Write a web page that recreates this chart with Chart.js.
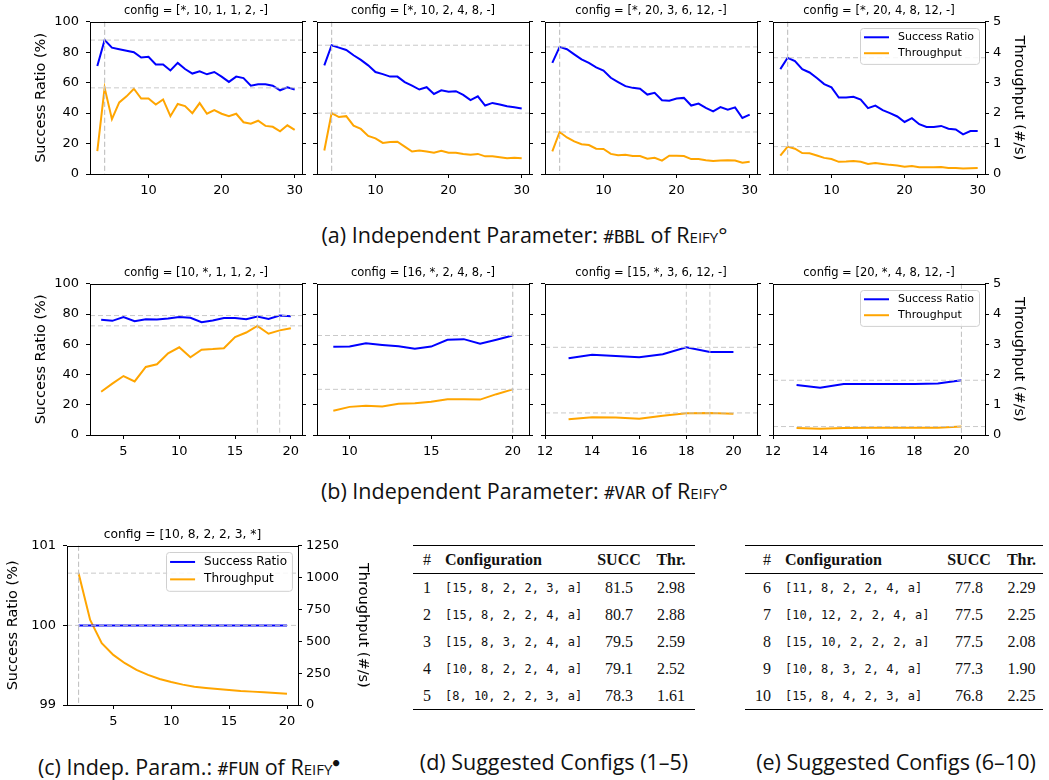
<!DOCTYPE html>
<html>
<head>
<meta charset="utf-8">
<script src="https://cdn.jsdelivr.net/npm/chart.js@4.4.1/dist/chart.umd.min.js"></script>
<style>
  body { margin: 0; background: #fff; }
  #fig { position: relative; width: 1049px; height: 780px; overflow: hidden; background: #fff; }
  .pane { position: absolute; }
  .cap { position: absolute; text-align: center; font-family: "Open Sans", Lato, sans-serif; font-size: 21.5px; line-height: 26px; color: #111; white-space: nowrap; }
  .cap .mono { font-family: "DejaVu Sans Mono", monospace; font-size: 0.8em; }
  .cap .sc { font-variant: small-caps; }
  table.cfg { position: absolute; border-collapse: collapse; font-family: "Liberation Serif", serif; font-size: 16px; color: #111;
              border-top: 1.5px solid #000; border-bottom: 1.5px solid #000; table-layout: fixed; }
  table.cfg th { height: 27px; padding: 0; border-bottom: 1px solid #000; font-weight: bold; }
  table.cfg td { height: 27px; padding: 0; }
  table.cfg .num { text-align: right; padding-right: 10px; font-weight: normal; }
  table.cfg .conf { text-align: left; padding-left: 4px; }
  table.cfg td.conf { font-family: "DejaVu Sans Mono", monospace; font-size: 12px; }
  table.cfg .c { text-align: center; }
</style>
</head>
<body>
<div id="fig">
  <div class="cap" style="left:0; width:1049px; top:222px;">(a) Independent Parameter: <span class="mono">#BBL</span> of <span class="sc">Reify</span>°</div>
  <div class="cap" style="left:0; width:1049px; top:478px;">(b) Independent Parameter: <span class="mono">#VAR</span> of <span class="sc">Reify</span>°</div>
  <div class="cap" style="left:0; width:378px; top:749px;">(c) Indep. Param.: <span class="mono">#FUN</span> of <span class="sc">Reify</span><sup style="font-size:0.6em">●</sup></div>
  <div class="cap" style="left:413px; width:282px; top:749px;">(d) Suggested Configs (1–5)</div>
  <div class="cap" style="left:745px; width:302px; top:749px;">(e) Suggested Configs (6–10)</div>
</div>

<script>
// ---- data ----
const bblSteps = [3, 4, 5, 6, 7, 8, 9, 10, 11, 12, 13, 14, 15, 16, 17, 18, 19, 20, 21, 22, 23, 24, 25, 26, 27, 28, 29, 30];
const varStepsB1 = [3, 4, 5, 6, 7, 8, 9, 10, 11, 12, 13, 14, 15, 16, 17, 18, 19, 20];
const varStepsB2 = [9, 10, 11, 12, 13, 14, 15, 16, 17, 18, 19, 20];
const varStepsB3 = [13, 14, 15, 16, 17, 18, 19, 20];
const funSteps = [2, 3, 4, 5, 6, 7, 8, 9, 10, 11, 12, 13, 14, 15, 16, 17, 18, 19, 20];

const titlesA = ['config = [*, 10, 1, 1, 2, -]', 'config = [*, 10, 2, 4, 8, -]', 'config = [*, 20, 3, 6, 12, -]', 'config = [*, 20, 4, 8, 12, -]'];
const titlesB = ['config = [10, *, 1, 1, 2, -]', 'config = [16, *, 2, 4, 8, -]', 'config = [15, *, 3, 6, 12, -]', 'config = [20, *, 4, 8, 12, -]'];
const titleC = 'config = [10, 8, 2, 2, 3, *]';

// success ratio (%)
const succA1 = [71, 88, 83, 82, 81, 80, 76.5, 77, 72, 72, 68, 73, 69, 66, 67.5, 65.5, 67, 64, 60.5, 64, 63, 58, 59, 59, 58, 55, 57, 55.5];
const succA2 = [71.4, 84.6, 83, 81.5, 78, 75, 71.4, 67, 65.6, 64, 64, 60.4, 58, 55.5, 57, 52.6, 55, 54, 54.4, 52, 48.5, 51, 45, 46.7, 45.6, 44.5, 43.8, 43];
const succA3 = [73, 83.5, 82, 78.6, 75.3, 73, 70, 68, 63.2, 60.4, 57.7, 56.6, 56, 52.2, 53.3, 48.5, 48.2, 49.6, 50, 45, 46.3, 43.4, 41.2, 44, 42.3, 43.8, 36.8, 39];
const succA4 = [68.9, 76.4, 74.2, 68.9, 66.7, 63.1, 59.1, 56.9, 50.2, 50.2, 50.7, 48.9, 43.3, 44.9, 42, 40, 37.8, 34.2, 36.7, 32.7, 30.9, 30.9, 31.6, 29.8, 29.3, 26, 28.2, 28.2];
const succB1 = [76.2, 75.5, 78, 75.3, 76.6, 76.4, 77, 78.1, 77.5, 74.6, 75.7, 77.3, 77.3, 76.6, 78.4, 76.8, 79, 78.6];
const succB2 = [58.3, 58.5, 60.7, 59.6, 58.7, 57, 58.5, 63, 63.4, 60.3, 63, 65.8];
const succB3 = [50.8, 53, 52.3, 51.4, 53.4, 58, 54.9, 54.9];
const succB4 = [33.1, 31.3, 33.8, 33.8, 33.8, 33.8, 34, 36.2];
const succC = [100, 100, 100, 100, 100, 100, 100, 100, 100, 100, 100, 100, 100, 100, 100, 100, 100, 100, 100];

// throughput (#/s)
const thrA1 = [0.75, 2.83, 1.8, 2.35, 2.55, 2.8, 2.48, 2.48, 2.28, 2.45, 1.9, 2.3, 2.23, 2.0, 2.33, 1.98, 2.1, 1.98, 1.9, 1.98, 1.7, 1.65, 1.75, 1.58, 1.55, 1.4, 1.6, 1.45];
const thrA2 = [0.77, 2.0, 1.87, 1.9, 1.59, 1.48, 1.25, 1.17, 1.02, 1.05, 1.06, 0.9, 0.74, 0.77, 0.74, 0.7, 0.76, 0.7, 0.7, 0.66, 0.63, 0.66, 0.58, 0.58, 0.55, 0.52, 0.53, 0.52];
const thrA3 = [0.74, 1.38, 1.2, 1.07, 0.98, 0.95, 0.83, 0.82, 0.66, 0.62, 0.63, 0.59, 0.59, 0.5, 0.53, 0.44, 0.6, 0.6, 0.59, 0.49, 0.49, 0.45, 0.43, 0.44, 0.45, 0.44, 0.37, 0.4];
const thrA4 = [0.6, 0.9, 0.83, 0.69, 0.68, 0.61, 0.53, 0.49, 0.4, 0.41, 0.43, 0.4, 0.33, 0.36, 0.33, 0.3, 0.28, 0.24, 0.26, 0.22, 0.22, 0.22, 0.23, 0.2, 0.2, 0.18, 0.19, 0.2];
const thrB1 = [1.43, 1.7, 1.95, 1.77, 2.25, 2.34, 2.7, 2.9, 2.57, 2.82, 2.84, 2.87, 3.24, 3.39, 3.61, 3.35, 3.46, 3.53];
const thrB2 = [0.8, 0.93, 0.97, 0.94, 1.03, 1.05, 1.1, 1.18, 1.18, 1.17, 1.35, 1.51];
const thrB3 = [0.52, 0.59, 0.58, 0.54, 0.64, 0.72, 0.73, 0.7];
const thrB4 = [0.23, 0.21, 0.23, 0.24, 0.24, 0.24, 0.24, 0.28];
const thrC = [1035, 668, 485, 393, 328, 275, 236, 204, 180, 160, 144, 134, 126, 118, 110, 105, 100, 94, 89];

// suggested configurations
const cfgRank = [1, 2, 3, 4, 5, 6, 7, 8, 9, 10];
const cfgText = ['[15, 8, 2, 2, 3, a]', '[15, 8, 2, 2, 4, a]', '[15, 8, 3, 2, 4, a]', '[10, 8, 2, 2, 4, a]', '[8, 10, 2, 2, 3, a]',
                 '[11, 8, 2, 2, 4, a]', '[10, 12, 2, 2, 4, a]', '[15, 10, 2, 2, 2, a]', '[10, 8, 3, 2, 4, a]', '[15, 8, 4, 2, 3, a]'];
const cfgSucc = [81.5, 80.7, 79.5, 79.1, 78.3, 77.8, 77.5, 77.5, 77.3, 76.8];
const cfgThr = [2.98, 2.88, 2.59, 2.52, 1.61, 2.29, 2.25, 2.08, 1.90, 2.25];

// ---- helpers ----
function pts(xs, ys) {
    return xs.map(function (x, i) { return { x: x, y: ys[i] }; });
}

// box around the plot area (matplotlib spines)
const frame = {
    id: 'frame',
    afterDraw(chart) {
        const a = chart.chartArea, ctx = chart.ctx;
        ctx.save();
        ctx.strokeStyle = '#000';
        ctx.lineWidth = 1;
        ctx.strokeRect(Math.round(a.left) + 0.5, Math.round(a.top) + 0.5,
                       Math.round(a.right) - Math.round(a.left), Math.round(a.bottom) - Math.round(a.top));
        ctx.restore();
    }
};

// dashed lines through the maximum of each series
const peakLines = {
    id: 'peakLines',
    afterDatasetsDraw(chart) {
        const a = chart.chartArea, ctx = chart.ctx;
        ctx.save();
        ctx.strokeStyle = 'rgba(195,195,195,0.9)';
        ctx.lineWidth = 1;
        ctx.setLineDash([5, 3]);
        chart.data.datasets.forEach(function (ds) {
            let best = ds.data[0];
            ds.data.forEach(function (p) { if (p.y > best.y) best = p; });
            const py = chart.scales[ds.yAxisID].getPixelForValue(best.y);
            const px = chart.scales.x.getPixelForValue(best.x);
            ctx.beginPath();
            ctx.moveTo(a.left, py); ctx.lineTo(a.right, py);
            ctx.moveTo(px, a.top); ctx.lineTo(px, a.bottom);
            ctx.stroke();
        });
        ctx.restore();
    }
};

// legend box in the upper right corner of the plot
const boxLegend = {
    id: 'boxLegend',
    afterDraw(chart, args, opts) {
        if (!opts.show) return;
        const a = chart.chartArea, ctx = chart.ctx, fs = opts.size;
        const sets = chart.data.datasets;
        ctx.save();
        ctx.font = fs + 'px "DejaVu Sans"';
        const tw = Math.max.apply(null, sets.map(function (d) { return ctx.measureText(d.label).width; }));
        const rowH = fs * 1.45;
        const w = 4 + 25 + 9 + tw + 5;
        const h = rowH * sets.length + 4;
        const x0 = a.right - 6 - w, y0 = a.top + 6;
        ctx.fillStyle = 'rgba(255,255,255,0.85)';
        ctx.strokeStyle = '#d0d0d0';
        ctx.lineWidth = 1;
        ctx.beginPath();
        ctx.roundRect(Math.round(x0) + 0.5, Math.round(y0) + 0.5, w, h, 3);
        ctx.fill();
        ctx.stroke();
        sets.forEach(function (d, i) {
            const cy = y0 + 1.5 + rowH * (i + 0.5);
            ctx.strokeStyle = d.borderColor;
            ctx.lineWidth = 2;
            ctx.beginPath();
            ctx.moveTo(x0 + 4, cy); ctx.lineTo(x0 + 29, cy);
            ctx.stroke();
            ctx.fillStyle = '#000';
            ctx.textBaseline = 'middle';
            ctx.fillText(d.label, x0 + 38, cy);
        });
        ctx.restore();
    }
};

const fam = 'DejaVu Sans';

function yAxis(pos, min, max, step, showLabels, title, titlePad, side) {
    return {
        type: 'linear', position: pos, min: min, max: max,
        ticks: { stepSize: step, display: showLabels, color: '#000', font: { family: fam, size: 13 },
                 padding: pos === 'left' ? 7 : 4, callback: function (v) { return String(v); } },
        grid: { drawOnChartArea: false, drawTicks: true, tickLength: 4, color: '#000' },
        border: { display: false },
        title: { display: !!title, text: title || '', color: '#000', font: { family: fam, size: 14.5 },
                 padding: { top: titlePad, bottom: 0 } },
        afterFit: function (s) { s.width = side; s.paddingTop = 0; s.paddingBottom = 0; }
    };
}

function makePanel(p) {
    const fig = document.getElementById('fig');
    const div = document.createElement('div');
    div.className = 'pane';
    const w = p.plotW + 2 * p.side;
    div.style.left = (p.plotLeft - p.side) + 'px';
    div.style.top = p.top + 'px';
    const cv = document.createElement('canvas');
    cv.width = w;
    cv.height = p.height;
    div.appendChild(cv);
    fig.appendChild(div);

    new Chart(cv, {
        type: 'line',
        data: {
            datasets: [
                { label: 'Success Ratio', data: pts(p.x, p.succ), yAxisID: 'y', borderColor: '#0000ff',
                  borderWidth: 2, pointRadius: 0, fill: false, tension: 0 },
                { label: 'Throughput', data: pts(p.x, p.thr), yAxisID: 'y1', borderColor: '#ffa500',
                  borderWidth: 2, pointRadius: 0, fill: false, tension: 0 }
            ]
        },
        options: {
            responsive: false,
            animation: false,
            layout: { padding: 0 },
            plugins: {
                legend: { display: false },
                tooltip: { enabled: false },
                title: { display: true, text: p.title, color: '#000', font: { family: fam, size: p.titleSize, weight: 'normal' },
                         padding: { top: 4, bottom: 4 } },
                boxLegend: { show: p.legend, size: p.legendSize }
            },
            scales: {
                x: {
                    type: 'linear', min: p.xMin, max: p.xMax,
                    ticks: { stepSize: p.xStep, includeBounds: false, color: '#000', font: { family: fam, size: 13 },
                             padding: 5, maxRotation: 0 },
                    grid: { drawOnChartArea: false, drawTicks: true, tickLength: 4, color: '#000' },
                    border: { display: false },
                    afterFit: function (s) { s.height = 26; s.paddingLeft = 0; s.paddingRight = 0; }
                },
                y: yAxis('left', p.yMin, p.yMax, p.yStep, p.leftLabels, p.leftLabels ? 'Success Ratio (%)' : '', p.leftPad, p.side),
                y1: yAxis('right', p.tMin, p.tMax, p.tStep, p.rightLabels, p.rightLabels ? 'Throughput (#/s)' : '', p.rightPad, p.side)
            }
        },
        plugins: [frame, peakLines, boxLegend]
    });
}

// ---- layout of the panels ----
const plotLefts = [90, 317, 545, 773];
const sideW = [60, 20, 20, 50];

const rowA = [[succA1, thrA1], [succA2, thrA2], [succA3, thrA3], [succA4, thrA4]];
rowA.forEach(function (s, i) {
    makePanel({
        x: bblSteps, succ: s[0], thr: s[1], title: titlesA[i], titleSize: 11.5,
        plotLeft: plotLefts[i], plotW: 212, side: sideW[i], top: 0, height: 200,
        xMin: 2, xMax: 31, xStep: 10,
        yMin: 0, yMax: 100, yStep: 20, tMin: 0, tMax: 5, tStep: 1,
        leftLabels: i === 0, rightLabels: i === 3, leftPad: 2.5, rightPad: 8,
        legend: i === 3, legendSize: 11
    });
});

const rowB = [[varStepsB1, succB1, thrB1, 2, 5], [varStepsB2, succB2, thrB2, 8, 5],
              [varStepsB3, succB3, thrB3, 12, 2], [varStepsB3, succB4, thrB4, 12, 2]];
rowB.forEach(function (s, i) {
    makePanel({
        x: s[0], succ: s[1], thr: s[2], title: titlesB[i], titleSize: 11.5,
        plotLeft: plotLefts[i], plotW: 212, side: sideW[i], top: 262, height: 199,
        xMin: s[3], xMax: 21, xStep: s[4],
        yMin: 0, yMax: 100, yStep: 20, tMin: 0, tMax: 5, tStep: 1,
        leftLabels: i === 0, rightLabels: i === 3, leftPad: 2.5, rightPad: 8,
        legend: i === 3, legendSize: 11
    });
});

makePanel({
    x: funSteps, succ: succC, thr: thrC, title: titleC, titleSize: 12.3,
    plotLeft: 67, plotW: 231, side: 80, top: 523, height: 208,
    xMin: 1, xMax: 20.95, xStep: 5,
    yMin: 99, yMax: 101, yStep: 1, tMin: 0, tMax: 1250, tStep: 250,
    leftLabels: true, rightLabels: true, leftPad: 18, rightPad: 7,
    legend: true, legendSize: 12
});

// ---- tables (d) and (e) ----
function makeTable(from, to, left, widths) {
    const t = document.createElement('table');
    t.className = 'cfg';
    t.style.left = left + 'px';
    t.style.top = '545px';
    t.style.width = widths.reduce(function (a, b) { return a + b; }, 0) + 'px';
    let html = '<colgroup>' + widths.map(function (w) { return '<col style="width:' + w + 'px">'; }).join('') + '</colgroup>';
    html += '<tr><th class="num">#</th><th class="conf">Configuration</th><th class="c">SUCC</th><th class="c">Thr.</th></tr>';
    for (let i = from; i < to; i++) {
        html += '<tr><td class="num">' + cfgRank[i] + '</td><td class="conf">' + cfgText[i] + '</td><td class="c">' +
                cfgSucc[i].toFixed(1) + '</td><td class="c">' + cfgThr[i].toFixed(2) + '</td></tr>';
    }
    t.innerHTML = html;
    document.getElementById('fig').appendChild(t);
}
makeTable(0, 5, 413, [28, 150, 56, 48]);
makeTable(5, 10, 745, [36, 157, 62, 43]);
</script>
</body>
</html>
